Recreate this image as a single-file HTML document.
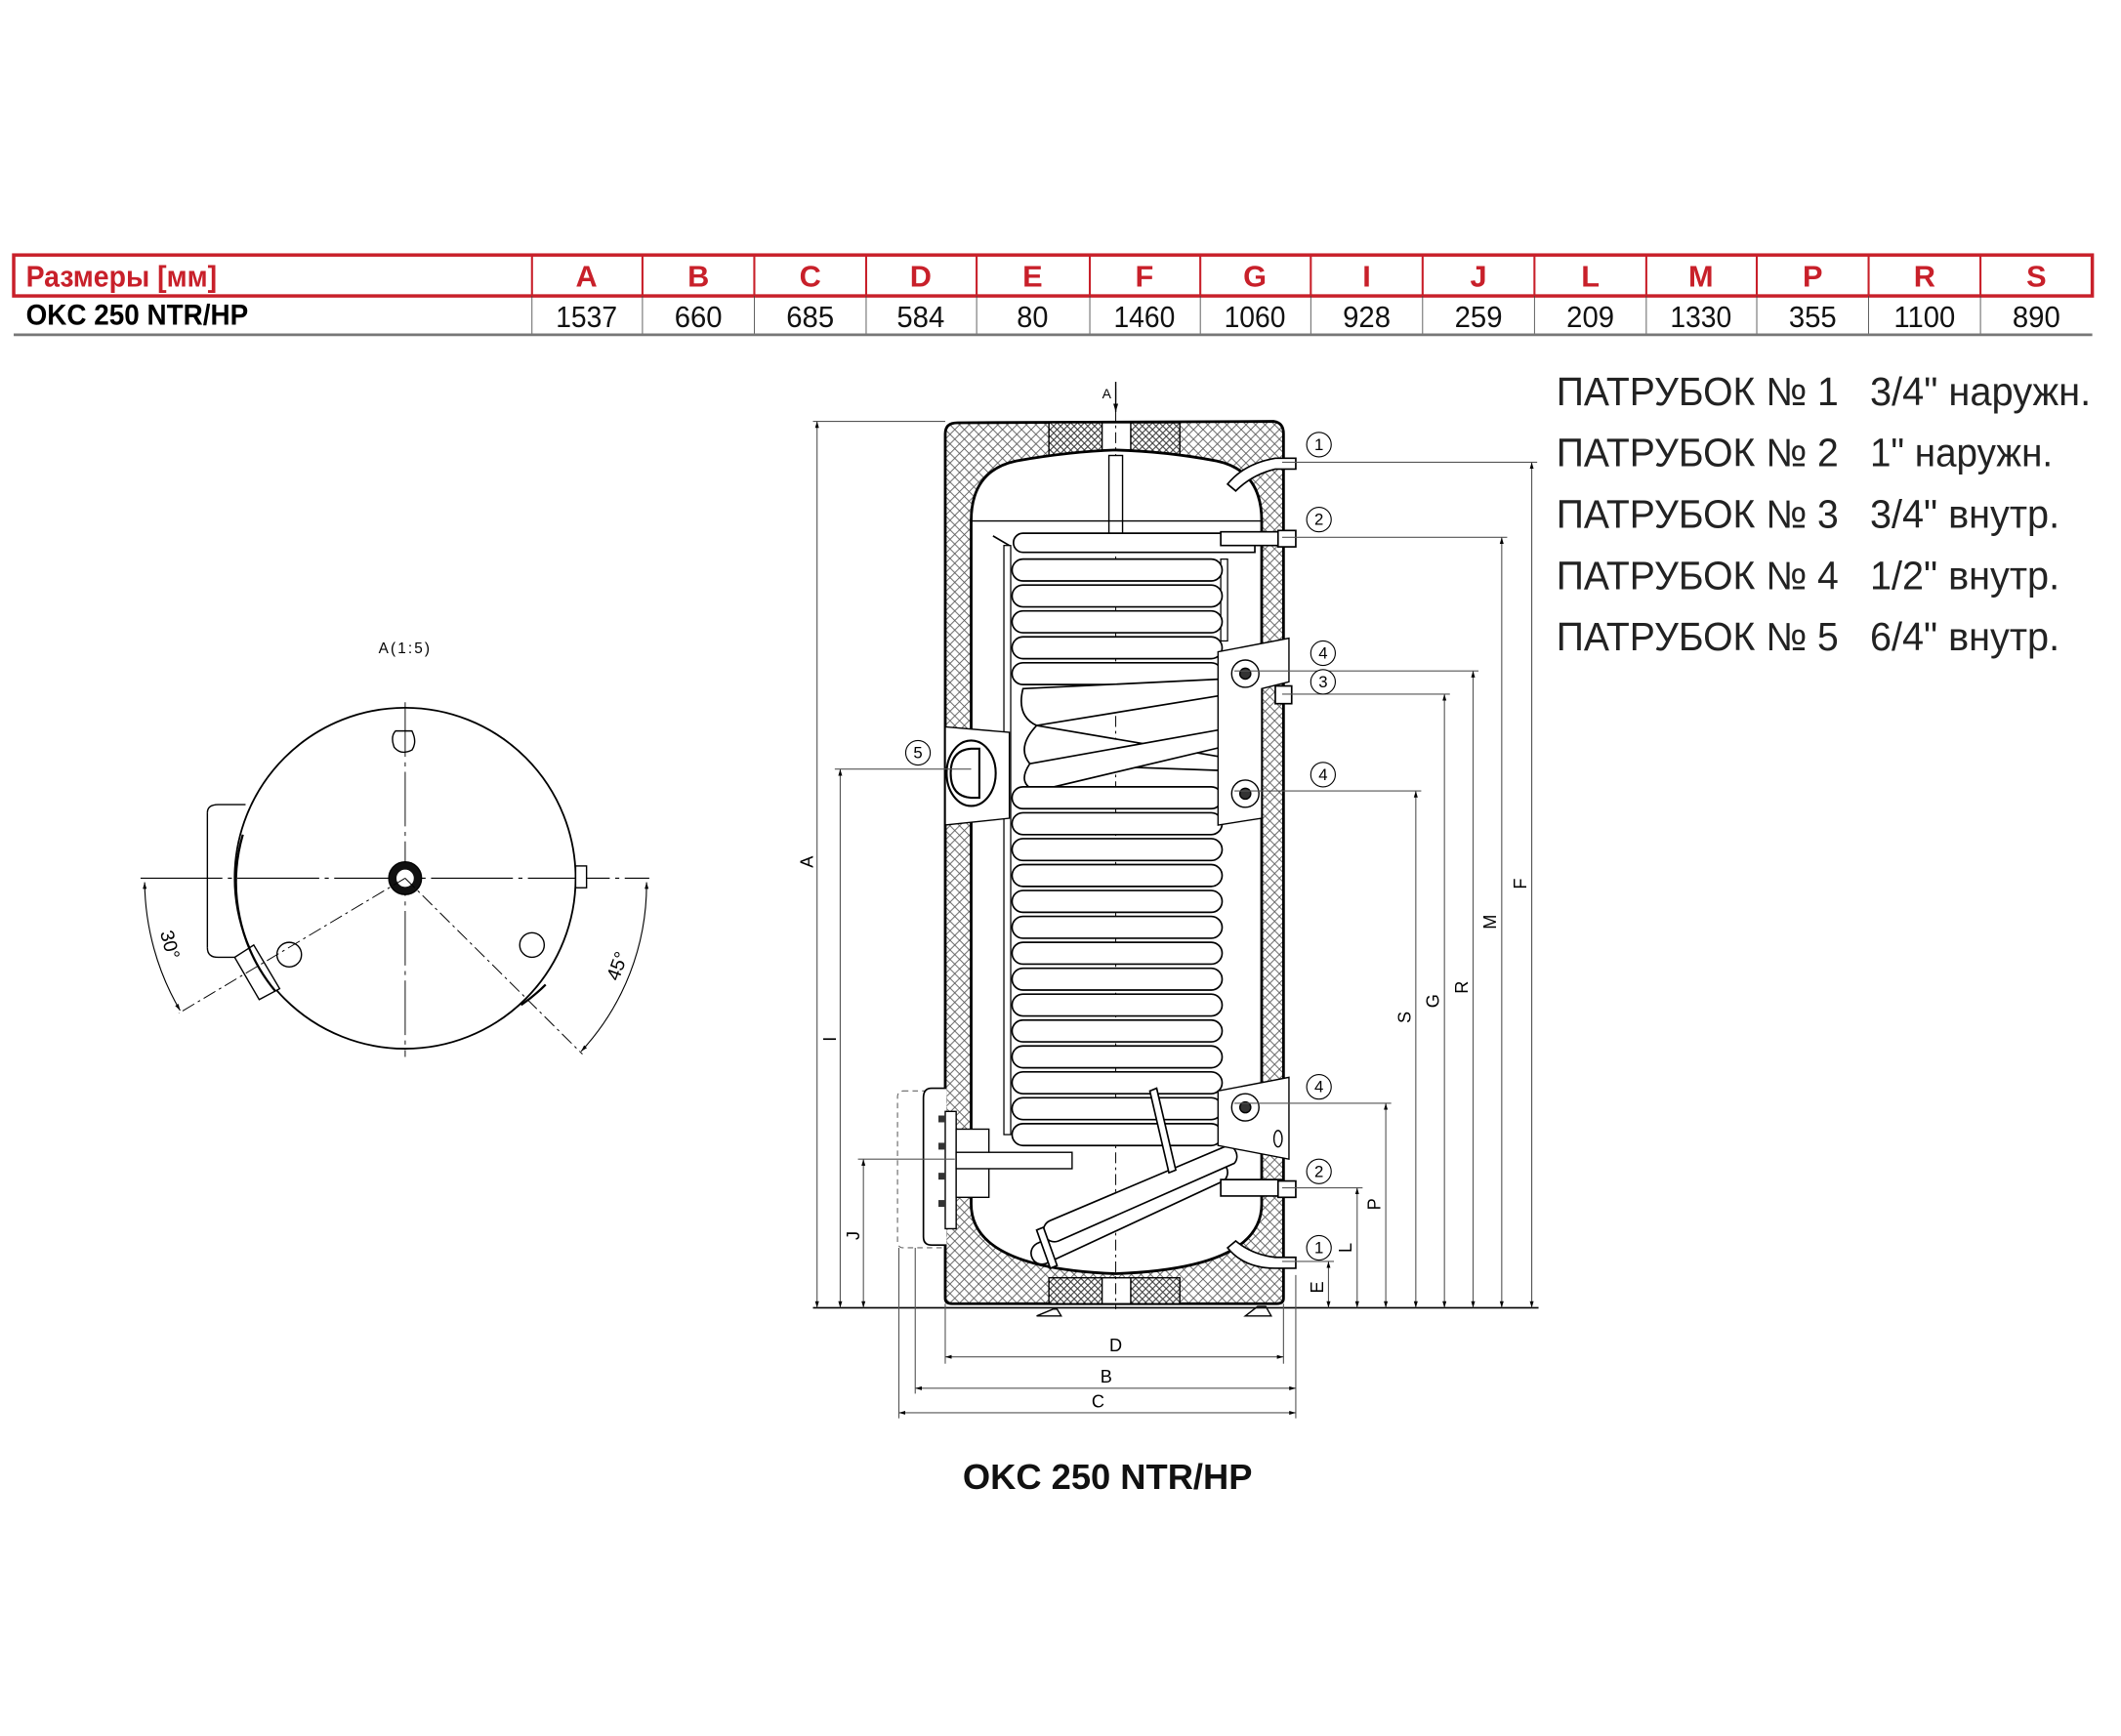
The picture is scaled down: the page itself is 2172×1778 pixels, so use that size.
<!DOCTYPE html>
<html><head><meta charset="utf-8"><style>
html,body{margin:0;padding:0;background:#fff}
svg{display:block}
</style></head><body>
<svg width="2172" height="1778" viewBox="0 0 1555 1273" xmlns="http://www.w3.org/2000/svg" font-family="'Liberation Sans', sans-serif">
<defs>
<pattern id="h" width="7" height="7" patternUnits="userSpaceOnUse">
<rect width="7" height="7" fill="#fff"/>
<path d="M0 0L7 7M7 0L0 7" stroke="#555" stroke-width="0.6"/>
</pattern>
<pattern id="h2" width="5" height="5" patternUnits="userSpaceOnUse">
<rect width="5" height="5" fill="#fff"/>
<path d="M0 0L5 5M5 0L0 5" stroke="#333" stroke-width="0.7"/>
</pattern>
<marker id="ar" viewBox="0 0 10 10" refX="10" refY="5" markerWidth="6" markerHeight="6" orient="auto-start-reverse"><path d="M0 2L10 5L0 8z" fill="#000"/></marker>
</defs>

<!-- TABLE -->
<rect x="10" y="187" width="1524" height="30" fill="none" stroke="#c8202a" stroke-width="2.5"/>
<g stroke="#c8202a" stroke-width="1.5">
<line x1="390" y1="187" x2="390" y2="217"/><line x1="471" y1="187" x2="471" y2="217"/><line x1="553" y1="187" x2="553" y2="217"/><line x1="635" y1="187" x2="635" y2="217"/><line x1="716" y1="187" x2="716" y2="217"/><line x1="799" y1="187" x2="799" y2="217"/><line x1="880" y1="187" x2="880" y2="217"/><line x1="961" y1="187" x2="961" y2="217"/><line x1="1043" y1="187" x2="1043" y2="217"/><line x1="1125" y1="187" x2="1125" y2="217"/><line x1="1207" y1="187" x2="1207" y2="217"/><line x1="1288" y1="187" x2="1288" y2="217"/><line x1="1370" y1="187" x2="1370" y2="217"/><line x1="1452" y1="187" x2="1452" y2="217"/>
</g>
<g stroke="#444" stroke-width="0.6">
<line x1="390" y1="217" x2="390" y2="245"/><line x1="471" y1="217" x2="471" y2="245"/><line x1="553" y1="217" x2="553" y2="245"/><line x1="635" y1="217" x2="635" y2="245"/><line x1="716" y1="217" x2="716" y2="245"/><line x1="799" y1="217" x2="799" y2="245"/><line x1="880" y1="217" x2="880" y2="245"/><line x1="961" y1="217" x2="961" y2="245"/><line x1="1043" y1="217" x2="1043" y2="245"/><line x1="1125" y1="217" x2="1125" y2="245"/><line x1="1207" y1="217" x2="1207" y2="245"/><line x1="1288" y1="217" x2="1288" y2="245"/><line x1="1370" y1="217" x2="1370" y2="245"/><line x1="1452" y1="217" x2="1452" y2="245"/>
</g>
<line x1="10" y1="245.5" x2="1534" y2="245.5" stroke="#777" stroke-width="2"/>
<g fill="#c8202a" font-weight="bold" font-size="22" text-anchor="middle">
<text x="89" y="210" textLength="140" lengthAdjust="spacingAndGlyphs">Размеры [мм]</text>
<text x="430" y="210">A</text><text x="512" y="210">B</text><text x="594" y="210">C</text><text x="675" y="210">D</text><text x="757" y="210">E</text><text x="839" y="210">F</text><text x="920" y="210">G</text><text x="1002" y="210">I</text><text x="1084" y="210">J</text><text x="1166" y="210">L</text><text x="1247" y="210">M</text><text x="1329" y="210">P</text><text x="1411" y="210">R</text><text x="1493" y="210">S</text>
</g>
<text x="19" y="238" font-weight="bold" font-size="21" textLength="163" lengthAdjust="spacingAndGlyphs">OKC 250 NTR/HP</text>
<g font-size="22" text-anchor="middle" fill="#111">
<text x="430" y="240" textLength="45" lengthAdjust="spacingAndGlyphs">1537</text><text x="512" y="240" textLength="35" lengthAdjust="spacingAndGlyphs">660</text><text x="594" y="240" textLength="35" lengthAdjust="spacingAndGlyphs">685</text><text x="675" y="240" textLength="35" lengthAdjust="spacingAndGlyphs">584</text><text x="757" y="240" textLength="23" lengthAdjust="spacingAndGlyphs">80</text><text x="839" y="240" textLength="45" lengthAdjust="spacingAndGlyphs">1460</text><text x="920" y="240" textLength="45" lengthAdjust="spacingAndGlyphs">1060</text><text x="1002" y="240" textLength="35" lengthAdjust="spacingAndGlyphs">928</text><text x="1084" y="240" textLength="35" lengthAdjust="spacingAndGlyphs">259</text><text x="1166" y="240" textLength="35" lengthAdjust="spacingAndGlyphs">209</text><text x="1247" y="240" textLength="45" lengthAdjust="spacingAndGlyphs">1330</text><text x="1329" y="240" textLength="35" lengthAdjust="spacingAndGlyphs">355</text><text x="1411" y="240" textLength="45" lengthAdjust="spacingAndGlyphs">1100</text><text x="1493" y="240" textLength="35" lengthAdjust="spacingAndGlyphs">890</text>
</g>

<!-- RIGHT LIST -->
<g font-size="29" fill="#222">
<text x="1141" y="297" textLength="207" lengthAdjust="spacingAndGlyphs">ПАТРУБОК № 1</text><text x="1371" y="297" textLength="162" lengthAdjust="spacingAndGlyphs">3/4" наружн.</text>
<text x="1141" y="342" textLength="207" lengthAdjust="spacingAndGlyphs">ПАТРУБОК № 2</text><text x="1371" y="342" textLength="134" lengthAdjust="spacingAndGlyphs">1" наружн.</text>
<text x="1141" y="387" textLength="207" lengthAdjust="spacingAndGlyphs">ПАТРУБОК № 3</text><text x="1371" y="387" textLength="139" lengthAdjust="spacingAndGlyphs">3/4" внутр.</text>
<text x="1141" y="432" textLength="207" lengthAdjust="spacingAndGlyphs">ПАТРУБОК № 4</text><text x="1371" y="432" textLength="139" lengthAdjust="spacingAndGlyphs">1/2" внутр.</text>
<text x="1141" y="477" textLength="207" lengthAdjust="spacingAndGlyphs">ПАТРУБОК № 5</text><text x="1371" y="477" textLength="139" lengthAdjust="spacingAndGlyphs">6/4" внутр.</text>
</g>

<!-- LEFT CIRCLE VIEW -->
<g fill="none" stroke="#000">
<text x="297" y="479" font-size="11" fill="#000" stroke="none" text-anchor="middle" letter-spacing="1.5">A(1:5)</text>
<line x1="297" y1="515" x2="297" y2="775" stroke="#555" stroke-width="1" stroke-dasharray="40 4 3 4"/>
<line x1="103" y1="644" x2="476" y2="644" stroke-width="0.8" stroke-dasharray="60 4 3 4"/>
<circle cx="297" cy="644" r="125" stroke-width="1.3"/>
<path d="M152 596 Q152 590 160 590 L180 590 M180 702 L160 702 Q152 702 152 695" stroke-width="1"/>
<line x1="152" y1="596" x2="152" y2="695" stroke-width="1"/>
<path d="M172 702 L186 693 L205 725 L190 733 Z" stroke-width="1" fill="#fff"/>
<rect x="422" y="635" width="8" height="16" stroke-width="1" fill="#fff"/>
<path d="M290 536 L302 536 Q306 544 302 550 Q294 554 289 548 Q286 540 290 536Z" stroke-width="1"/>
<circle cx="212" cy="700" r="9" stroke-width="1"/>
<circle cx="390" cy="693" r="9" stroke-width="1"/>
<circle cx="297" cy="644" r="12" fill="#111" stroke-width="1"/>
<circle cx="297" cy="644" r="7" fill="#fff" stroke="#111" stroke-width="1.3"/>
<line x1="297" y1="644" x2="131" y2="743" stroke-width="0.7" stroke-dasharray="10 3 2 3"/>
<line x1="297" y1="644" x2="427" y2="773" stroke-width="0.7" stroke-dasharray="10 3 2 3"/>
<path d="M106 647 A190 190 0 0 0 132 741" stroke-width="0.8" marker-start="url(#ar)" marker-end="url(#ar)"/>
<path d="M474 647 A180 180 0 0 1 426 771" stroke-width="0.8" marker-start="url(#ar)" marker-end="url(#ar)"/>
<path d="M178 612 A125 125 0 0 0 202 727" stroke-width="1.6"/>
<path d="M400 722 A125 125 0 0 1 382 737" stroke-width="1.6"/>
</g>
<text x="120" y="694" font-size="14" transform="rotate(75 120 694)" text-anchor="middle">30°</text>
<text x="457" y="710" font-size="14" transform="rotate(-70 457 710)" text-anchor="middle">45°</text>

<!-- TANK -->
<path d="M693 952 L693 318 Q693 310 702 310 L934 309 Q941 310 941 318 L941 952 Q941 956 936 956 L698 956 Q693 956 693 952Z" fill="url(#h)" stroke="#000" stroke-width="2"/>
<rect x="769" y="310" width="96" height="28" fill="url(#h2)" stroke="#000" stroke-width="1"/>
<rect x="769" y="937" width="96" height="19" fill="url(#h2)" stroke="#000" stroke-width="1"/>
<rect x="808" y="310" width="21" height="24" fill="#fff" stroke="#000" stroke-width="1"/>
<rect x="808" y="937" width="21" height="19" fill="#fff" stroke="#000" stroke-width="1"/>
<path d="M712 382 Q712 345 745 338 Q785 331 818 330 Q855 331 892 338 Q925 345 925 382 L925 883 Q925 930 818 934 Q712 930 712 883 Z" fill="#fff" stroke="#000" stroke-width="2"/>
<line x1="818" y1="285" x2="818" y2="960" stroke="#000" stroke-width="0.7" stroke-dasharray="8 3 2 3"/>
<rect x="813" y="334" width="10" height="60" fill="#fff" stroke="#000" stroke-width="1"/>
<line x1="712" y1="382" x2="925" y2="382" stroke="#000" stroke-width="1"/>
<rect x="736" y="400" width="5" height="432" fill="#fff" stroke="#000" stroke-width="0.9"/>
<line x1="728" y1="393" x2="740" y2="400" stroke="#000" stroke-width="1.2"/>
<rect x="895" y="410" width="5" height="60" fill="#fff" stroke="#000" stroke-width="0.9"/>
<g fill="#fff" stroke="#000" stroke-width="1.2">
<path d="M750 391 H920 V405 H750 A7 7 0 0 1 750 391Z"/>
<path d="M750 410 H888 A8 8 0 0 1 888 426 H750 A8 8 0 0 1 750 410Z"/>
<path d="M750 429 H888 A8 8 0 0 1 888 445 H750 A8 8 0 0 1 750 429Z"/>
<path d="M750 448 H888 A8 8 0 0 1 888 464 H750 A8 8 0 0 1 750 448Z"/>
<path d="M750 467 H888 A8 8 0 0 1 888 483 H750 A8 8 0 0 1 750 467Z"/>
<path d="M750 486 H888 A8 8 0 0 1 888 502 H750 A8 8 0 0 1 750 486Z"/>
<path d="M750 505 L895 498 L895 510 L760 532 Q745 525 750 505Z"/>
<path d="M760 532 L895 555 L895 565 L755 560 Q745 548 760 532Z"/>
<path d="M755 560 L895 535 L895 548 L760 580 Q745 575 755 560Z"/>
<path d="M750 577 H888 A8 8 0 0 1 888 593 H750 A8 8 0 0 1 750 577Z"/>
<path d="M750 596 H888 A8 8 0 0 1 888 612 H750 A8 8 0 0 1 750 596Z"/>
<path d="M750 615 H888 A8 8 0 0 1 888 631 H750 A8 8 0 0 1 750 615Z"/>
<path d="M750 634 H888 A8 8 0 0 1 888 650 H750 A8 8 0 0 1 750 634Z"/>
<path d="M750 653 H888 A8 8 0 0 1 888 669 H750 A8 8 0 0 1 750 653Z"/>
<path d="M750 672 H888 A8 8 0 0 1 888 688 H750 A8 8 0 0 1 750 672Z"/>
<path d="M750 691 H888 A8 8 0 0 1 888 707 H750 A8 8 0 0 1 750 691Z"/>
<path d="M750 710 H888 A8 8 0 0 1 888 726 H750 A8 8 0 0 1 750 710Z"/>
<path d="M750 729 H888 A8 8 0 0 1 888 745 H750 A8 8 0 0 1 750 729Z"/>
<path d="M750 748 H888 A8 8 0 0 1 888 764 H750 A8 8 0 0 1 750 748Z"/>
<path d="M750 767 H888 A8 8 0 0 1 888 783 H750 A8 8 0 0 1 750 767Z"/>
<path d="M750 786 H888 A8 8 0 0 1 888 802 H750 A8 8 0 0 1 750 786Z"/>
<path d="M750 805 H888 A8 8 0 0 1 888 821 H750 A8 8 0 0 1 750 805Z"/>
<path d="M750 824 H888 A8 8 0 0 1 888 840 H750 A8 8 0 0 1 750 824Z"/>
<path d="M760 912 L890 852 A8 8 0 0 1 897 866 L768 926 A8 8 0 0 1 760 912Z"/>
<path d="M770 895 L900 840 A8 8 0 0 1 905 853 L776 910 A8 8 0 0 1 770 895Z"/>
<path d="M843 800 L848 798 L862 858 L857 860Z"/>
<path d="M760 902 L765 900 L775 928 L770 930Z"/>
<path d="M895 865 H941 V877 H895Z"/>
<path d="M895 390 H941 V400 H895Z"/>
</g>
<path d="M900 355 Q912 340 935 336 L950 336 L950 344 L935 344 Q918 348 906 360Z" fill="#fff" stroke="#000" stroke-width="1.2"/>
<path d="M900 915 Q912 930 935 930 L950 930 L950 922 L935 922 Q918 920 906 910Z" fill="#fff" stroke="#000" stroke-width="1.2"/>
<g fill="#fff" stroke="#000" stroke-width="1.2">
<rect x="937" y="389" width="13" height="12"/>
<rect x="937" y="866" width="13" height="12"/>
<rect x="935" y="503" width="12" height="13"/>
</g>
<g fill="#fff" stroke="#000" stroke-width="1">
<path d="M893 478 L945 468 L945 500 L925 505 L925 600 L893 605 Z"/>
<circle cx="913" cy="494" r="10"/><circle cx="913" cy="494" r="4" fill="#333"/>
<circle cx="913" cy="582" r="10"/><circle cx="913" cy="582" r="4" fill="#333"/>
<path d="M893 800 L945 790 L945 850 L893 840 Z"/>
<circle cx="913" cy="812" r="10"/><circle cx="913" cy="812" r="4" fill="#333"/>
<ellipse cx="937" cy="835" rx="3" ry="6"/>
</g>
<path d="M693 533 L740 537 L740 600 L693 605Z" fill="#fff" stroke="#000" stroke-width="1"/>
<ellipse cx="712" cy="567" rx="18" ry="24" fill="#fff" stroke="#000" stroke-width="1.5"/>
<path d="M697 567 Q697 550 712 549 L718 549 L718 585 L712 585 Q697 584 697 567Z" fill="#fff" stroke="#000" stroke-width="1.5"/>
<rect x="658" y="800" width="36" height="115" rx="4" fill="none" stroke="#666" stroke-width="0.8" stroke-dasharray="4 3"/>
<path d="M694 798 L683 798 Q677 798 677 805 L677 907 Q677 913 683 913 L694 913" fill="#fff" stroke="#000" stroke-width="1.2"/>
<rect x="693" y="815" width="8" height="86" fill="#fff" stroke="#000" stroke-width="1"/>
<rect x="701" y="828" width="24" height="50" fill="#fff" stroke="#000" stroke-width="1"/>
<rect x="701" y="845" width="85" height="12" fill="#fff" stroke="#000" stroke-width="1"/>
<g fill="#333"><rect x="688" y="818" width="5" height="5"/><rect x="688" y="838" width="5" height="5"/><rect x="688" y="860" width="5" height="5"/><rect x="688" y="880" width="5" height="5"/></g>
<path d="M760 965 L772 960 L775 960 L778 965Z" fill="#fff" stroke="#000"/>
<path d="M913 965 L922 958 L928 958 L932 965Z" fill="#fff" stroke="#000"/>
<line x1="818" y1="280" x2="818" y2="302" stroke="#000" stroke-width="1" marker-end="url(#ar)"/>
<text x="808" y="292" font-size="10">A</text>

<!-- DIMENSIONS -->
<g stroke="#555" stroke-width="0.8" fill="none">
<line x1="596" y1="959" x2="1128" y2="959" stroke="#000" stroke-width="1.2"/>
<line x1="596" y1="309" x2="693" y2="309"/>
<line x1="599" y1="309" x2="599" y2="959" marker-start="url(#ar)" marker-end="url(#ar)"/>
<line x1="612" y1="564" x2="712" y2="564"/>
<line x1="616" y1="564" x2="616" y2="959" marker-start="url(#ar)" marker-end="url(#ar)"/>
<line x1="629" y1="850" x2="700" y2="850"/>
<line x1="633" y1="850" x2="633" y2="959" marker-start="url(#ar)" marker-end="url(#ar)"/>
<line x1="940" y1="339" x2="1127" y2="339"/>
<line x1="1123" y1="339" x2="1123" y2="959" marker-start="url(#ar)" marker-end="url(#ar)"/>
<line x1="940" y1="394" x2="1105" y2="394"/>
<line x1="1101" y1="394" x2="1101" y2="959" marker-start="url(#ar)" marker-end="url(#ar)"/>
<line x1="905" y1="492" x2="1084" y2="492"/>
<line x1="1080" y1="492" x2="1080" y2="959" marker-start="url(#ar)" marker-end="url(#ar)"/>
<line x1="940" y1="509" x2="1063" y2="509"/>
<line x1="1059" y1="509" x2="1059" y2="959" marker-start="url(#ar)" marker-end="url(#ar)"/>
<line x1="905" y1="580" x2="1042" y2="580"/>
<line x1="1038" y1="580" x2="1038" y2="959" marker-start="url(#ar)" marker-end="url(#ar)"/>
<line x1="905" y1="809" x2="1020" y2="809"/>
<line x1="1016" y1="809" x2="1016" y2="959" marker-start="url(#ar)" marker-end="url(#ar)"/>
<line x1="940" y1="871" x2="999" y2="871"/>
<line x1="995" y1="871" x2="995" y2="959" marker-start="url(#ar)" marker-end="url(#ar)"/>
<line x1="940" y1="925" x2="978" y2="925"/>
<line x1="974" y1="925" x2="974" y2="959" marker-start="url(#ar)" marker-end="url(#ar)"/>
<line x1="693" y1="956" x2="693" y2="1000"/>
<line x1="941" y1="956" x2="941" y2="1000"/>
<line x1="950" y1="935" x2="950" y2="1040"/>
<line x1="671" y1="915" x2="671" y2="1022"/>
<line x1="659" y1="915" x2="659" y2="1040"/>
<line x1="693" y1="995" x2="941" y2="995" marker-start="url(#ar)" marker-end="url(#ar)"/>
<line x1="671" y1="1018" x2="950" y2="1018" marker-start="url(#ar)" marker-end="url(#ar)"/>
<line x1="659" y1="1036" x2="950" y2="1036" marker-start="url(#ar)" marker-end="url(#ar)"/>
</g>
<g font-size="13" fill="#000" text-anchor="middle">
<text x="818" y="991">D</text><text x="811" y="1014">B</text><text x="805" y="1032">C</text>
<text transform="translate(596 632) rotate(-90)">A</text>
<text transform="translate(613 762) rotate(-90)">I</text>
<text transform="translate(630 906) rotate(-90)">J</text>
<text transform="translate(1119 648) rotate(-90)">F</text>
<text transform="translate(1097 676) rotate(-90)">M</text>
<text transform="translate(1076 724) rotate(-90)">R</text>
<text transform="translate(1055 734) rotate(-90)">G</text>
<text transform="translate(1034 746) rotate(-90)">S</text>
<text transform="translate(1012 883) rotate(-90)">P</text>
<text transform="translate(991 915) rotate(-90)">L</text>
<text transform="translate(970 944) rotate(-90)">E</text>
</g>
<g font-size="12" text-anchor="middle" fill="#000">
<g fill="#fff" stroke="#000" stroke-width="0.8">
<circle cx="967" cy="326" r="9"/><circle cx="967" cy="381" r="9"/><circle cx="970" cy="479" r="9"/><circle cx="970" cy="500" r="9"/><circle cx="970" cy="568" r="9"/><circle cx="967" cy="797" r="9"/><circle cx="967" cy="859" r="9"/><circle cx="967" cy="915" r="9"/><circle cx="673" cy="552" r="9"/>
</g>
<text x="967" y="330">1</text><text x="967" y="385">2</text><text x="970" y="483">4</text><text x="970" y="504">3</text><text x="970" y="572">4</text><text x="967" y="801">4</text><text x="967" y="863">2</text><text x="967" y="919">1</text><text x="673" y="556">5</text>
</g>
<text x="812" y="1092" font-size="26" font-weight="bold" text-anchor="middle" fill="#111">OKC 250 NTR/HP</text>
</svg>
</body></html>
